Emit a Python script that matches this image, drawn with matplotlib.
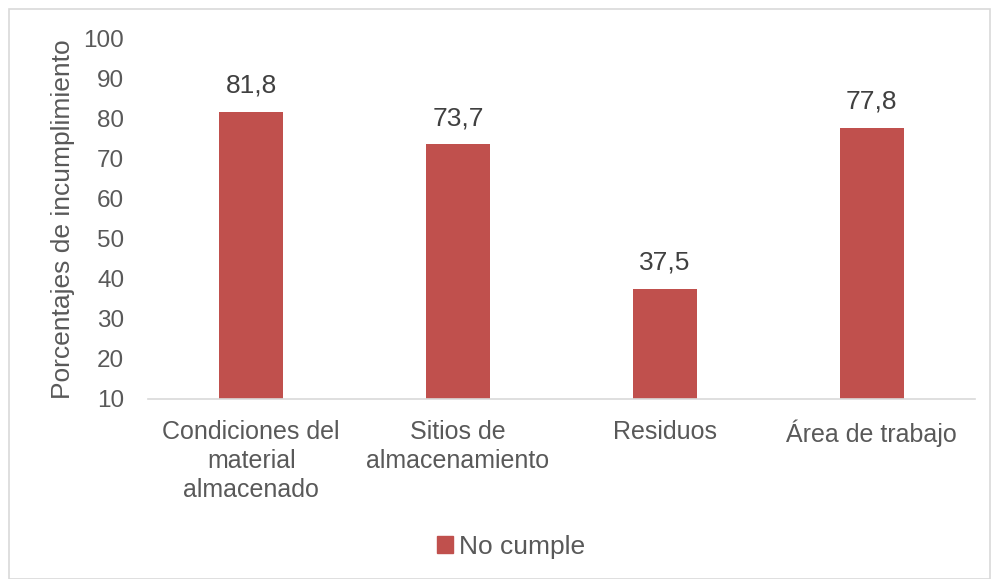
import matplotlib.pyplot as plt
from matplotlib.patches import Rectangle, Patch

categories = ["Condiciones del\nmaterial\nalmacenado", "Sitios de\nalmacenamiento", "Residuos", "Área de trabajo"]
values = [81.8, 73.7, 37.5, 77.8]
yticks = [10, 20, 30, 40, 50, 60, 70, 80, 90, 100]
series_name = "No cumple"

bar_color = "#C0504D"
text_color = "#595959"

plt.rcParams['font.family'] = ['Liberation Sans', 'DejaVu Sans']

fig = plt.figure(figsize=(9.92, 5.79), dpi=100)
ax = fig.add_axes([0.149, 0.311, 0.834, 0.622])

x = range(len(categories))
ax.bar(x, values, width=0.31, color=bar_color, bottom=0)
ax.set_ylim(10, 100)
ax.set_xlim(-0.5, len(categories) - 0.5)
ax.set_yticks(yticks)
ax.set_yticklabels([str(t) for t in yticks], fontsize=17.5, color=text_color)
ax.set_xticks(list(x))
ax.set_xticklabels(categories, fontsize=18, color=text_color, linespacing=1.28)
ax.tick_params(axis='y', length=0, pad=17)
ax.tick_params(axis='x', length=0, pad=15)

for spine in ["top", "right", "left"]:
    ax.spines[spine].set_visible(False)
ax.spines["bottom"].set_color("#D9D9D9")
ax.spines["bottom"].set_linewidth(1.2)

for i, v in enumerate(values):
    ax.annotate(("%.1f" % v).replace(".", ","), (i, v), xytext=(0, 10),
                textcoords="offset points", ha="center", va="bottom",
                fontsize=19, color="#404040")

ax.set_ylabel("Porcentajes de incumplimiento", fontsize=19, color=text_color, labelpad=6)

fig.legend(handles=[Patch(color=bar_color, label=series_name)], loc="center",
           bbox_to_anchor=(511 / 992, 1 - 547 / 579), frameon=False,
           fontsize=19, labelcolor=text_color, handlelength=0.6, handleheight=0.6,
           handletextpad=0.25)

fig.patches.append(Rectangle((9 / 992, 0), 981 / 992, 1 - 9 / 579, transform=fig.transFigure,
                             fill=False, edgecolor="#D9D9D9", linewidth=1.2))

fig.savefig("out.png", dpi=100)
